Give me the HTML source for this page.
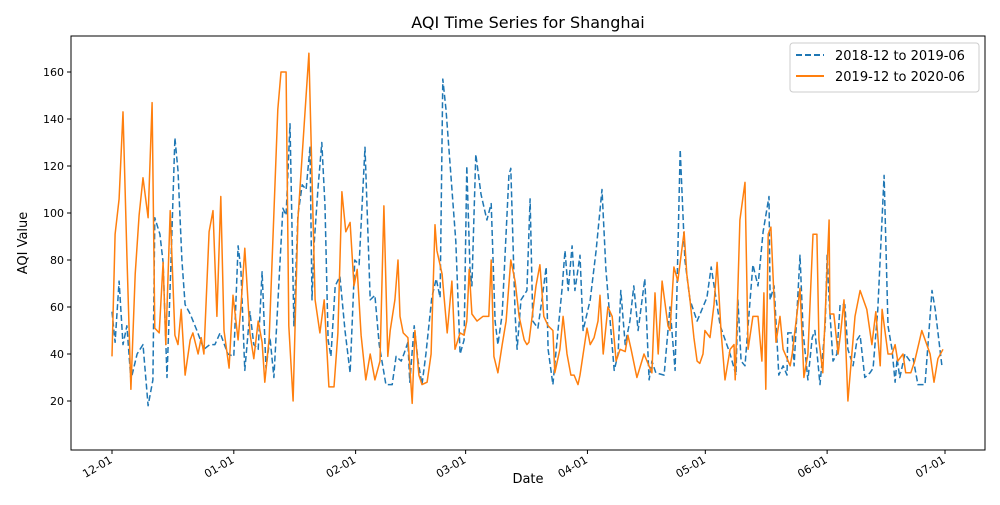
<!DOCTYPE html>
<html><head><meta charset="utf-8"><style>
body{margin:0;background:#fff;font-family:"Liberation Sans","DejaVu Sans",sans-serif;}
svg text{font-family:"DejaVu Sans","Liberation Sans",sans-serif;}
</style></head><body>
<svg id="chart" width="1000" height="500">
<rect x="0" y="0" width="1000" height="500" fill="#fff"/>
<text x="528" y="28" text-anchor="middle" font-size="16">AQI Time Series for Shanghai</text>
<g id="series"></g>
<rect x="71" y="36" width="914" height="414" fill="none" stroke="#000" stroke-width="1"/>
<g id="axes"></g>
<text x="528" y="483" text-anchor="middle" font-size="13">Date</text>
<text transform="translate(27,243) rotate(-90)" text-anchor="middle" font-size="13">AQI Value</text>
<g>
<rect x="790" y="43" width="189" height="49" rx="3" fill="#fff" stroke="#ccc"/>
<line x1="796" y1="55" x2="824" y2="55" stroke="#1f77b4" stroke-width="2" stroke-dasharray="6,3"/>
<text x="835" y="60" font-size="13">2018-12 to 2019-06</text>
<line x1="796" y1="76" x2="824" y2="76" stroke="#ff7f0e" stroke-width="2"/>
<text x="835" y="81" font-size="13">2019-12 to 2020-06</text>
</g>
</svg>
<script>
const yTicks=[20,40,60,80,100,120,140,160];
const xTickDays=[0,31,62,90,121,151,182,212];
const xTickLabels=["12-01","01-01","02-01","03-01","04-01","05-01","06-01","07-01"];
const blueDays=[0,0.8,1.8,2.8,3.8,4.8,6.4,7.9,9.2,10.4,10.9,12.2,13.0,14.0,15.0,16.0,16.8,17.8,18.6,19.9,21.6,23.4,24.9,26.2,27.5,29.5,31.0,32.1,32.8,33.8,35.1,36.1,37.2,38.2,39.2,40.2,41.2,42.5,43.5,44.3,45.3,46.3,47.3,48.4,49.4,50.4,50.9,51.4,52.4,53.4,54.2,55.0,55.7,56.8,58.0,59.3,60.6,61.8,62.9,64.4,65.2,65.7,66.9,68.0,69.7,71.3,72.3,73.6,74.3,75.3,75.8,76.9,77.9,78.9,79.9,81.4,82.5,83.5,84.2,85.0,87.5,88.6,89.6,90.3,91.1,91.6,92.6,93.9,95.4,96.5,97.5,98.2,99.3,101.0,101.5,102.6,103.1,104.1,105.6,106.4,107.1,108.4,109.4,110.5,111.0,112.2,113.5,114.5,115.3,116.1,117.1,117.8,119.1,119.9,121.7,123.2,124.7,125.7,127.8,128.8,129.5,130.6,131.8,132.8,133.9,135.6,136.7,137.4,138.4,140.5,142.0,143.3,144.6,145.8,147.1,148.9,151.4,152.5,154.8,157.3,158.8,159.3,160.1,161.1,162.4,163.1,164.4,165.7,167.2,167.5,168.5,169.7,170.8,171.8,172.0,173.1,173.6,175.1,175.9,177.1,178.2,178.9,180.2,181.5,182.0,182.5,183.5,184.5,185.3,186.5,187.3,188.6,189.6,190.4,191.6,192.9,193.7,194.9,196.5,197.5,198.5,199.3,199.8,200.5,201.8,203.1,203.9,205.1,206.9,208.7,209.5,211.2];
const blueValues=[58,45,71,44,52,29,40,44,18,29,98,91,79,30,78,132,118,80,61,57,50,42,44,44,49,40,39,86,76,33,58,44,42,75,34,47,30,71,102,99,138,52,99,112,110,128,63,86,110,130,103,46,39,69,73,50,32,80,78,128,88,63,65,44,27,27,39,37,40,45,28,52,37,27,40,64,72,64,157,144,88,40,46,120,76,69,125,108,97,104,54,44,57,116,119,57,42,63,67,106,54,51,63,77,42,27,50,67,84,67,86,67,82,50,63,84,110,76,33,40,67,44,54,69,50,72,29,37,32,31,60,33,127,80,63,54,64,77,52,40,31,63,37,35,63,78,69,92,107,63,69,31,35,31,49,49,35,82,49,29,47,50,27,52,82,63,37,40,61,61,42,35,46,48,30,32,34,59,116,52,42,28,38,30,40,37,38,27,27,67,59,35];
const orangeDays=[0,0.8,1.8,2.8,3.8,4.8,5.9,6.9,7.9,9.2,10.2,10.9,12.0,13.0,13.7,14.8,16.0,16.8,17.6,18.6,19.9,20.6,21.9,22.7,23.4,24.7,25.7,26.7,27.7,28.5,29.8,30.8,32.1,32.8,33.8,35.1,36.1,37.2,38.2,38.9,40.0,42.2,43.0,44.3,45.0,46.1,47.3,50.1,51.7,52.9,54.0,55.2,56.5,57.5,58.5,59.5,60.6,61.6,62.4,63.4,64.6,65.7,66.9,68.2,69.2,70.2,70.8,72.0,72.8,73.3,74.1,75.3,76.4,77.1,78.1,78.9,80.2,81.2,82.2,82.7,84.0,85.3,86.5,87.3,88.6,89.6,90.3,90.9,91.6,92.9,94.4,95.9,96.5,97.2,98.2,99.3,100.3,101.5,102.6,103.6,104.9,105.6,106.1,107.9,108.9,109.9,111.0,112.2,112.7,114.0,114.8,115.8,116.8,117.6,118.6,119.1,120.9,121.7,122.7,123.7,124.2,125.0,126.2,127.3,128.3,129.3,130.6,131.3,132.1,133.6,135.4,137.4,138.2,139.0,140.0,141.5,142.0,143.0,144.0,145.6,146.3,147.1,148.1,148.9,149.6,150.4,150.9,152.2,153.2,154.0,155.0,156.0,157.3,158.3,158.6,159.8,161.1,161.9,163.1,164.4,165.4,165.9,166.4,167.0,167.7,169.0,170.0,170.8,172.6,173.1,175.1,176.1,177.1,178.4,179.4,179.9,180.9,182.5,182.7,183.7,184.8,185.5,186.3,187.3,189.1,190.4,192.1,193.4,194.4,195.5,196.0,197.5,198.5,199.3,200.0,201.3,202.0,203.3,204.3,205.4,206.1,208.2,209.2,210.2,211.5];
const orangeValues=[39,91,106,143,82,25,74,99,115,98,147,51,49,79,44,101,48,44,59,31,46,49,40,47,40,92,101,56,107,50,34,65,46,60,85,49,38,54,45,28,47,144,160,160,52,20,97,168,63,49,63,26,26,49,109,92,96,69,76,48,29,40,29,37,103,39,50,63,80,56,49,47,19,50,31,27,28,40,95,84,74,49,71,42,49,48,54,76,57,54,56,56,80,39,32,44,54,80,71,56,46,44,45,69,78,56,52,50,32,42,56,40,31,31,27,31,51,44,47,54,65,40,60,56,37,42,41,48,42,30,40,32,66,40,71,52,50,77,71,92,74,63,47,37,36,40,50,47,61,79,50,29,42,44,29,97,113,42,56,56,37,66,25,91,94,45,56,42,35,40,68,30,40,91,91,46,32,97,57,57,40,50,63,20,56,67,59,44,58,35,59,40,40,44,37,40,32,32,37,45,50,40,28,38,42];

const NS="http://www.w3.org/2000/svg";
const L=71,R=985,T=36,B=450;
function xScale(d){return 112+d*(945-112)/212;}
function yScale(v){return 448-v*2.35;}
const axes=document.getElementById('axes');
const series=document.getElementById('series');
function mk(tag,attrs,parent){const e=document.createElementNS(NS,tag);for(const k in attrs)e.setAttribute(k,attrs[k]);parent.appendChild(e);return e;}
yTicks.forEach(v=>{
  const y=yScale(v);
  const t=mk('line',{x1:L-4,y1:y,x2:L,y2:y,stroke:'#000'},axes);
  
  
  const tx=mk('text',{x:L-7,y:y+4,'text-anchor':'end','font-size':'11'},axes);
  tx.textContent=v;
  
  
});
xTickDays.forEach((d,i)=>{
  const x=xScale(d);
  const t=mk('line',{x1:x,y1:B,x2:x,y2:B+4,stroke:'#000'},axes);
  
  
  const tx=mk('text',{transform:`translate(${x+1},${B+12}) rotate(-30)`,'text-anchor':'end','font-size':'11'},axes);
  tx.textContent=xTickLabels[i];
  
  
});
function drawLine(days,vals,color,dash,name){
  const pts=days.map((d,i)=>xScale(d).toFixed(1)+','+yScale(vals[i]).toFixed(1)).join(' ');
  const p=mk('polyline',{points:pts,fill:'none',stroke:color,'stroke-width':'1.5','stroke-linejoin':'round'},series);
  if(dash)p.setAttribute('stroke-dasharray',dash);
  
  
}
drawLine(blueDays,blueValues,'#1f77b4','6,3','series-2018-2019');
drawLine(orangeDays,orangeValues,'#ff7f0e',null,'series-2019-2020');
</script>
</body></html>
